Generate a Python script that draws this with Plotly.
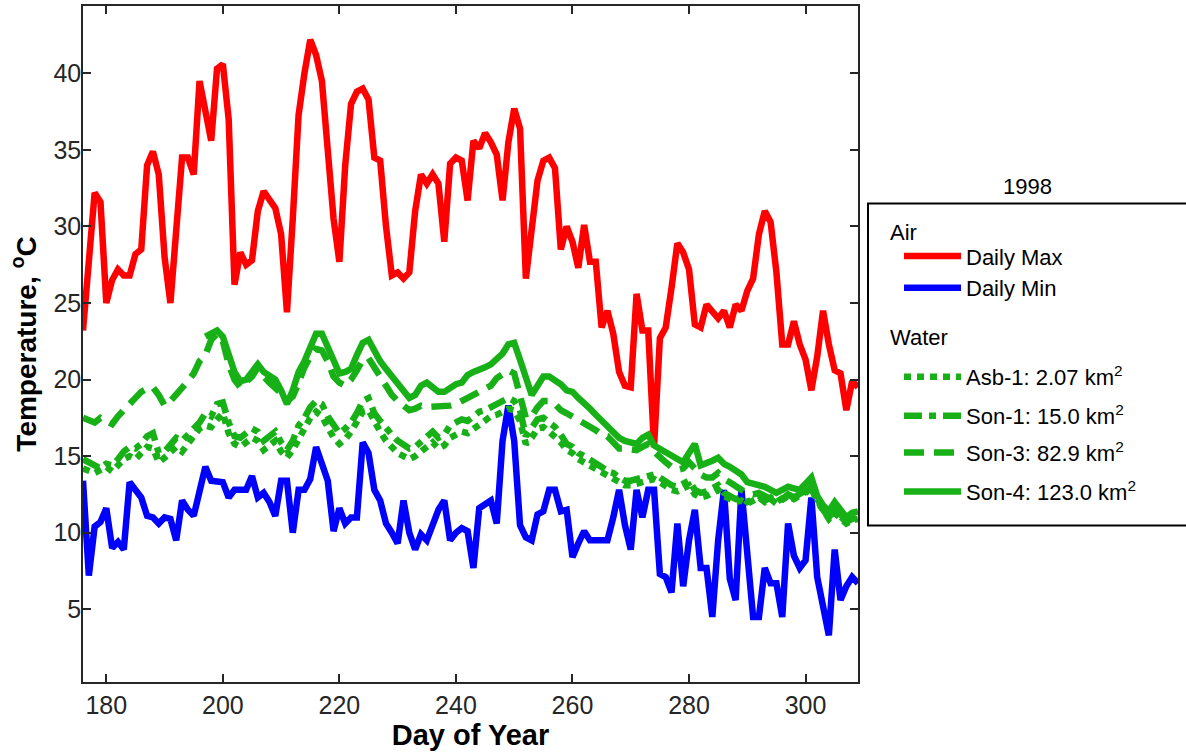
import plotly.graph_objects as go

days = list(range(176, 310))

daily_max = [
    23.2, 28.0, 32.2, 31.6, 25.0, 26.5, 27.2, 26.8, 26.8, 28.2,
    28.5, 34.0, 34.9, 33.4, 28.0, 25.0, 30.0, 34.5, 34.5, 33.4,
    39.5, 37.5, 35.6, 40.3, 40.6, 37.0, 26.2, 28.3, 27.5, 27.8,
    31.0, 32.3, 31.8, 31.2, 29.5, 24.4, 30.5, 37.3, 40.0, 42.2,
    41.2, 39.5, 35.0, 30.5, 27.7, 34.0, 38.0, 38.8, 39.0, 38.3,
    34.5, 34.3, 30.0, 26.8, 27.0, 26.6, 27.0, 31.0, 33.4, 32.8,
    33.4, 32.8, 29.0, 34.1, 34.5, 34.3, 31.7, 35.6, 35.1, 36.1,
    35.5, 34.7, 31.7, 35.5, 37.7, 36.4, 26.6, 30.0, 33.0, 34.3,
    34.5, 33.8, 28.5, 30.0, 29.0, 27.3, 30.1, 27.7, 27.7, 23.4,
    24.5, 23.0, 20.5, 19.6, 19.5, 25.6, 23.2, 23.2, 15.6, 22.7,
    23.4, 26.0, 28.9, 28.3, 27.2, 23.6, 23.4, 24.9, 24.5, 24.0,
    24.5, 23.4, 24.9, 24.5, 25.8, 26.6, 29.5, 31.0, 30.3, 27.0,
    22.3, 22.3, 23.8, 22.3, 21.3, 19.3, 21.5, 24.5, 22.3, 20.6,
    20.4, 18.0, 19.9, 19.5,
]

daily_min = [
    13.4, 7.2, 10.4, 10.7, 11.6, 9.0, 9.4, 8.9, 13.3, 12.8,
    12.3, 11.1, 11.0, 10.6, 11.0, 10.9, 9.5, 12.1, 11.5, 11.1,
    12.5, 14.3, 13.4, 13.4, 13.3, 12.3, 12.8, 12.8, 12.8, 13.7,
    12.3, 12.6, 12.0, 11.1, 13.4, 13.4, 10.0, 12.8, 12.8, 13.5,
    15.6, 14.5, 13.4, 10.1, 11.6, 10.6, 11.0, 11.0, 15.9, 15.2,
    12.8, 12.1, 10.6, 10.0, 9.3, 12.1, 10.0, 8.9, 9.9, 9.5,
    10.5, 11.5, 12.1, 9.5, 10.0, 10.3, 10.1, 7.7, 11.6, 11.8,
    12.1, 10.6, 16.0, 18.3, 16.0, 10.5, 9.7, 9.5, 11.2, 11.4,
    12.8, 12.8, 11.4, 11.5, 8.4, 9.3, 10.1, 9.5, 9.5, 9.5,
    9.5, 11.0, 12.8, 10.5, 8.9, 12.8, 11.0, 12.8, 12.8, 7.3,
    7.1, 6.1, 10.6, 6.5, 9.5, 11.5, 7.7, 7.7, 4.5, 9.5,
    12.8, 7.0, 5.6, 12.8, 9.0, 4.5, 4.5, 7.7, 6.7, 6.7,
    4.5, 10.6, 8.5, 7.7, 8.2, 12.3, 7.1, 5.0, 3.3, 8.9,
    5.6, 6.5, 7.1, 6.7,
]

asb1 = [
    14.2, 14.0, 13.9, 14.1, 14.3, 14.0, 14.4, 14.8, 15.0, 14.8,
    15.2, 15.6, 15.5, 14.6, 14.9, 15.3, 15.6, 15.3, 15.8, 16.2,
    16.8, 17.0, 16.9, 17.4, 17.8, 16.5, 15.8, 15.6, 15.9, 16.2,
    16.0, 15.4, 15.7, 16.0, 15.3, 14.9, 15.4, 16.2, 16.8, 17.5,
    17.9, 17.6, 16.8, 16.2, 15.8, 16.1, 16.6, 17.2, 17.9, 18.0,
    17.2, 16.6, 16.0, 15.6, 15.2, 15.0, 14.8, 15.0, 15.3, 15.7,
    15.9, 15.5, 15.7, 16.2, 16.4, 16.6, 16.5, 16.8, 17.1, 17.3,
    17.6, 17.7, 17.9, 18.1, 18.0, 17.3, 15.8, 16.2, 16.8, 16.9,
    16.6, 16.3, 15.9, 15.4, 15.2, 14.8, 14.6, 14.4, 14.1, 13.9,
    13.7, 13.6, 13.3, 13.1, 13.1, 13.2, 13.3, 13.3, 13.5, 13.3,
    13.0, 12.8, 12.7, 12.9, 13.1, 12.5, 12.3, 12.4, 12.6, 12.8,
    12.4, 12.2, 12.0, 12.1, 11.9, 12.1, 12.3, 12.0, 12.2, 11.9,
    12.1, 12.4, 12.2, 12.4, 12.7, 12.9, 12.1, 11.5, 10.9, 11.3,
    10.9, 10.6, 10.8, 10.9,
]

son1 = [
    14.8, 14.6, 14.3, 14.2, 14.5, 14.4, 14.8, 15.3, 15.6, 15.5,
    15.8, 16.3, 16.5, 15.2, 15.3, 15.8, 16.2, 16.0, 16.4, 16.8,
    17.2, 17.8, 17.6, 18.4, 18.5, 17.2, 16.3, 16.2, 16.5, 16.8,
    16.6, 16.0, 16.3, 16.6, 15.9, 15.4, 16.0, 17.0, 17.5, 18.2,
    18.6, 18.4, 17.6, 17.0, 16.5, 16.8, 17.2, 17.8, 18.6, 18.8,
    17.8, 17.3, 16.8, 16.4, 16.0, 15.8, 15.5, 15.6, 15.9, 16.3,
    16.6, 16.2, 16.4, 17.0, 17.2, 17.4, 17.3, 17.6, 17.9, 18.0,
    18.2, 18.3, 18.6, 18.8, 18.6, 18.0, 16.3, 16.8, 17.4, 17.5,
    17.2, 16.9, 16.4, 15.8, 15.6, 15.2, 15.0, 14.8, 14.5, 14.3,
    14.0, 13.9, 13.6, 13.4, 13.4, 13.5, 13.6, 13.6, 13.8, 13.6,
    13.3, 13.1, 13.0, 13.2, 13.4, 12.8, 12.6, 12.7, 12.9, 13.1,
    12.6, 12.4, 12.2, 12.3, 12.0, 12.2, 12.4, 12.1, 12.3, 12.0,
    12.2, 12.5, 12.3, 12.5, 12.8, 13.0, 12.2, 11.6, 11.0, 11.4,
    11.0, 10.7, 10.9, 11.0,
]

son3 = [
    17.5, 17.3, 17.2, 17.5, 17.3, 17.1, 17.6, 18.0, 18.4, 18.9,
    19.2, 19.4, 19.5, 19.0, 18.3, 18.6, 19.0, 19.4, 19.9, 20.4,
    21.2, 21.6, 22.6, 23.0, 22.5, 21.0, 20.0, 19.5, 19.8, 20.2,
    20.8, 20.2, 19.8, 19.5, 19.1, 18.6, 18.9, 19.8, 20.8, 21.5,
    22.0, 21.9, 21.2, 20.2, 19.8, 19.6, 20.0, 20.6, 21.3, 21.4,
    20.8, 20.2, 19.5, 19.0, 18.6, 18.3, 18.0, 18.1, 18.3, 18.2,
    18.2, 18.2, 18.2, 18.3, 18.4, 18.6, 18.8, 18.9, 19.1, 19.3,
    19.6, 20.1, 20.4, 20.6, 20.4, 18.8, 17.5, 17.6, 18.2, 18.6,
    18.6, 18.4, 18.0, 17.8, 17.6, 17.4, 17.2, 16.9, 16.7, 16.4,
    16.3, 15.9, 15.5, 15.5, 15.5, 15.4, 15.6, 15.8, 15.3, 14.9,
    14.6, 14.3, 14.1, 14.2, 14.6, 14.2, 13.8, 13.6, 13.6, 13.9,
    13.5, 13.3, 13.0, 12.8, 12.6, 12.5, 12.6, 12.4, 12.2, 12.0,
    12.2, 12.5, 12.3, 12.2, 12.6, 13.0, 12.0, 11.5, 11.0, 11.6,
    11.2, 10.8, 11.0, 11.2,
]

son4 = [None] * 21 + [
    22.8, 23.0, 23.2, 22.8, 21.5, 20.5, 19.9, 20.0, 20.5, 21.0,
    20.5, 20.2, 20.0, 19.3, 18.4, 19.3, 20.5, 21.2, 22.2, 23.0,
    23.0, 22.2, 21.2, 20.4, 20.5, 20.7, 21.6, 22.4, 22.6, 21.8,
    21.2, 20.7, 20.2, 19.7, 19.2, 18.8, 19.0, 19.6, 19.8, 19.5,
    19.2, 19.2, 19.5, 19.7, 19.8, 20.3, 20.5, 20.6, 20.8, 21.0,
    21.3, 21.7, 22.3, 22.4, 21.3, 20.0, 19.0, 19.6, 20.2, 20.2,
    20.0, 19.7, 19.3, 19.2, 18.8, 18.5, 18.1, 17.7, 17.3, 16.9,
    16.5, 16.2, 16.0, 15.9, 15.8, 16.2, 16.4, 15.7, 15.5, 15.2,
    15.0, 14.8, 14.6, 15.2, 15.8, 14.4, 14.5, 14.7, 14.9, 14.5,
    14.3, 14.1, 13.8, 13.3, 13.2, 13.2, 13.0, 12.8, 12.6, 12.8,
    13.0, 12.9, 12.8, 13.2, 13.6, 12.4, 11.8, 11.4, 12.0, 11.5,
    11.0, 11.3, 11.4,
]

x_ticks = [180, 200, 220, 240, 260, 280, 300]
y_ticks = [5, 10, 15, 20, 25, 30, 35, 40]

FONT = "Liberation Sans, Arial, Helvetica, sans-serif"
RED = "#ff0000"
BLUE = "#0000ff"
GREEN = "#17b017"
AXC = "#262626"
LW = 6.5

# plot-area geometry in pixels (for placing legend pieces in paper coords)
PL, PR, PT, PB = 83, 858, 4, 682


def px(xp):
    return (xp - PL) / (PR - PL)


def py(yp):
    return (PB - yp) / (PB - PT)


fig = go.Figure()
fig.add_trace(go.Scatter(x=days, y=daily_max, mode="lines", name="Daily Max",
                         line=dict(color=RED, width=LW), legend="legend"))
fig.add_trace(go.Scatter(x=days, y=daily_min, mode="lines", name="Daily Min",
                         line=dict(color=BLUE, width=LW), legend="legend"))
fig.add_trace(go.Scatter(x=days, y=asb1, mode="lines", name="Asb-1: 2.07 km<sup>2</sup>",
                         line=dict(color=GREEN, width=LW, dash="7px,6px"), legend="legend2"))
fig.add_trace(go.Scatter(x=days, y=son1, mode="lines", name="Son-1: 15.0 km<sup>2</sup>",
                         line=dict(color=GREEN, width=LW, dash="18px,7px,7px,7px"), legend="legend3"))
fig.add_trace(go.Scatter(x=days, y=son3, mode="lines", name="Son-3: 82.9 km<sup>2</sup>",
                         line=dict(color=GREEN, width=LW, dash="20px,10px"), legend="legend4"))
fig.add_trace(go.Scatter(x=days, y=son4, mode="lines", name="Son-4: 123.0 km<sup>2</sup>",
                         line=dict(color=GREEN, width=LW), legend="legend5"))

axis_common = dict(
    showline=True, linecolor=AXC, linewidth=1.5, mirror="ticks",
    ticks="inside", ticklen=8, tickwidth=1.5, tickcolor=AXC,
    showgrid=False, zeroline=False,
    tickfont=dict(family=FONT, size=25, color=AXC),
)

fig.update_xaxes(range=[176, 309], tickvals=x_ticks,
                 title=dict(text="<b>Day of Year</b>", font=dict(family=FONT, size=29, color="black"), standoff=4),
                 **axis_common)
fig.update_yaxes(range=[0.25, 44.4], tickvals=y_ticks, ticklabelstandoff=-5,
                 title=dict(text="<b>Temperature, <sup>o</sup>C</b>", font=dict(family=FONT, size=28, color="black"), standoff=9),
                 **axis_common)

leg_common = dict(xanchor="left", yanchor="top", bgcolor="rgba(0,0,0,0)", borderwidth=0,
                  font=dict(family=FONT, size=22, color="black"), itemwidth=57)
LEGX = px(899)

fig.update_layout(
    width=1186, height=752,
    margin=dict(l=PL, r=1186 - PR, t=PT, b=752 - PB),
    plot_bgcolor="white", paper_bgcolor="white",
    font=dict(family=FONT, size=22, color="black"),
    showlegend=True,
    legend=dict(x=LEGX, y=py(234), **leg_common),
    legend2=dict(x=LEGX, y=py(355), **leg_common),
    legend3=dict(x=LEGX, y=py(394), **leg_common),
    legend4=dict(x=LEGX, y=py(431), **leg_common),
    legend5=dict(x=LEGX, y=py(470), **leg_common),
    shapes=[dict(type="rect", xref="paper", yref="paper",
                 x0=px(868), x1=px(1200), y0=py(525), y1=py(202),
                 line=dict(color="black", width=2), fillcolor="rgba(0,0,0,0)")],
    annotations=[
        dict(text="1998", xref="paper", yref="paper", x=px(1027), y=py(185),
             xanchor="center", yanchor="middle", showarrow=False,
             font=dict(family=FONT, size=22, color="black")),
        dict(text="Air", xref="paper", yref="paper", x=px(888), y=py(231),
             xanchor="left", yanchor="middle", showarrow=False,
             font=dict(family=FONT, size=22, color="black")),
        dict(text="Water", xref="paper", yref="paper", x=px(888), y=py(336),
             xanchor="left", yanchor="middle", showarrow=False,
             font=dict(family=FONT, size=22, color="black")),
    ],
)

fig.write_html("out.html")
